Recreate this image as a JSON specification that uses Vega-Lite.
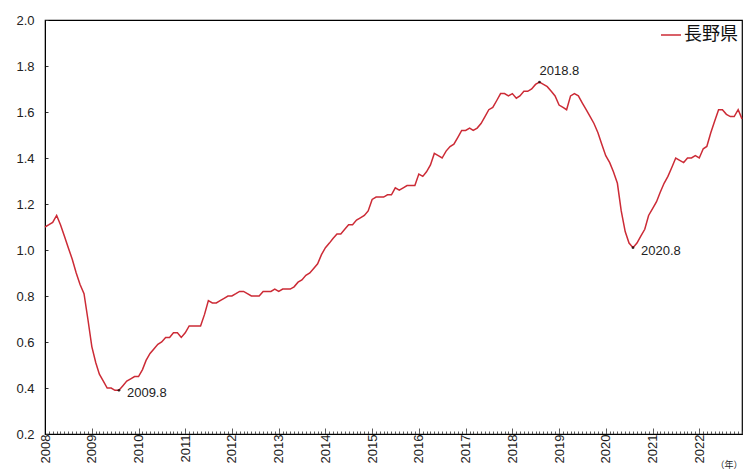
{
  "$schema": "https://vega.github.io/schema/vega-lite/v6.json",
  "width": 697,
  "height": 414,
  "autosize": "none",
  "padding": {"left": 45, "top": 20, "right": 4, "bottom": 40},
  "background": "white",
  "config": {
    "view": {"stroke": "#000", "strokeWidth": 1.2},
    "font": "Liberation Sans"
  },
  "datasets": {
    "main": [
      {"d":"2008/01/01","v":1.10},{"d":"2008/02/01","v":1.11},{"d":"2008/03/01","v":1.12},{"d":"2008/04/01","v":1.15},{"d":"2008/05/01","v":1.11},{"d":"2008/06/01","v":1.06},{"d":"2008/07/01","v":1.01},{"d":"2008/08/01","v":0.96},{"d":"2008/09/01","v":0.90},{"d":"2008/10/01","v":0.85},{"d":"2008/11/01","v":0.81},{"d":"2008/12/01","v":0.70},
      {"d":"2009/01/01","v":0.58},{"d":"2009/02/01","v":0.51},{"d":"2009/03/01","v":0.46},{"d":"2009/04/01","v":0.43},{"d":"2009/05/01","v":0.40},{"d":"2009/06/01","v":0.40},{"d":"2009/07/01","v":0.39},{"d":"2009/08/01","v":0.39},{"d":"2009/09/01","v":0.41},{"d":"2009/10/01","v":0.43},{"d":"2009/11/01","v":0.44},{"d":"2009/12/01","v":0.45},
      {"d":"2010/01/01","v":0.45},{"d":"2010/02/01","v":0.48},{"d":"2010/03/01","v":0.52},{"d":"2010/04/01","v":0.55},{"d":"2010/05/01","v":0.57},{"d":"2010/06/01","v":0.59},{"d":"2010/07/01","v":0.60},{"d":"2010/08/01","v":0.62},{"d":"2010/09/01","v":0.62},{"d":"2010/10/01","v":0.64},{"d":"2010/11/01","v":0.64},{"d":"2010/12/01","v":0.62},
      {"d":"2011/01/01","v":0.64},{"d":"2011/02/01","v":0.67},{"d":"2011/03/01","v":0.67},{"d":"2011/04/01","v":0.67},{"d":"2011/05/01","v":0.67},{"d":"2011/06/01","v":0.72},{"d":"2011/07/01","v":0.78},{"d":"2011/08/01","v":0.77},{"d":"2011/09/01","v":0.77},{"d":"2011/10/01","v":0.78},{"d":"2011/11/01","v":0.79},{"d":"2011/12/01","v":0.80},
      {"d":"2012/01/01","v":0.80},{"d":"2012/02/01","v":0.81},{"d":"2012/03/01","v":0.82},{"d":"2012/04/01","v":0.82},{"d":"2012/05/01","v":0.81},{"d":"2012/06/01","v":0.80},{"d":"2012/07/01","v":0.80},{"d":"2012/08/01","v":0.80},{"d":"2012/09/01","v":0.82},{"d":"2012/10/01","v":0.82},{"d":"2012/11/01","v":0.82},{"d":"2012/12/01","v":0.83},
      {"d":"2013/01/01","v":0.82},{"d":"2013/02/01","v":0.83},{"d":"2013/03/01","v":0.83},{"d":"2013/04/01","v":0.83},{"d":"2013/05/01","v":0.84},{"d":"2013/06/01","v":0.86},{"d":"2013/07/01","v":0.87},{"d":"2013/08/01","v":0.89},{"d":"2013/09/01","v":0.90},{"d":"2013/10/01","v":0.92},{"d":"2013/11/01","v":0.94},{"d":"2013/12/01","v":0.98},
      {"d":"2014/01/01","v":1.01},{"d":"2014/02/01","v":1.03},{"d":"2014/03/01","v":1.05},{"d":"2014/04/01","v":1.07},{"d":"2014/05/01","v":1.07},{"d":"2014/06/01","v":1.09},{"d":"2014/07/01","v":1.11},{"d":"2014/08/01","v":1.11},{"d":"2014/09/01","v":1.13},{"d":"2014/10/01","v":1.14},{"d":"2014/11/01","v":1.15},{"d":"2014/12/01","v":1.17},
      {"d":"2015/01/01","v":1.22},{"d":"2015/02/01","v":1.23},{"d":"2015/03/01","v":1.23},{"d":"2015/04/01","v":1.23},{"d":"2015/05/01","v":1.24},{"d":"2015/06/01","v":1.24},{"d":"2015/07/01","v":1.27},{"d":"2015/08/01","v":1.26},{"d":"2015/09/01","v":1.27},{"d":"2015/10/01","v":1.28},{"d":"2015/11/01","v":1.28},{"d":"2015/12/01","v":1.28},
      {"d":"2016/01/01","v":1.33},{"d":"2016/02/01","v":1.32},{"d":"2016/03/01","v":1.34},{"d":"2016/04/01","v":1.37},{"d":"2016/05/01","v":1.42},{"d":"2016/06/01","v":1.41},{"d":"2016/07/01","v":1.40},{"d":"2016/08/01","v":1.43},{"d":"2016/09/01","v":1.45},{"d":"2016/10/01","v":1.46},{"d":"2016/11/01","v":1.49},{"d":"2016/12/01","v":1.52},
      {"d":"2017/01/01","v":1.52},{"d":"2017/02/01","v":1.53},{"d":"2017/03/01","v":1.52},{"d":"2017/04/01","v":1.53},{"d":"2017/05/01","v":1.55},{"d":"2017/06/01","v":1.58},{"d":"2017/07/01","v":1.61},{"d":"2017/08/01","v":1.62},{"d":"2017/09/01","v":1.65},{"d":"2017/10/01","v":1.68},{"d":"2017/11/01","v":1.68},{"d":"2017/12/01","v":1.67},
      {"d":"2018/01/01","v":1.68},{"d":"2018/02/01","v":1.66},{"d":"2018/03/01","v":1.67},{"d":"2018/04/01","v":1.69},{"d":"2018/05/01","v":1.69},{"d":"2018/06/01","v":1.70},{"d":"2018/07/01","v":1.72},{"d":"2018/08/01","v":1.73},{"d":"2018/09/01","v":1.72},{"d":"2018/10/01","v":1.71},{"d":"2018/11/01","v":1.69},{"d":"2018/12/01","v":1.67},
      {"d":"2019/01/01","v":1.63},{"d":"2019/02/01","v":1.62},{"d":"2019/03/01","v":1.61},{"d":"2019/04/01","v":1.67},{"d":"2019/05/01","v":1.68},{"d":"2019/06/01","v":1.67},{"d":"2019/07/01","v":1.64},{"d":"2019/08/01","v":1.61},{"d":"2019/09/01","v":1.58},{"d":"2019/10/01","v":1.55},{"d":"2019/11/01","v":1.51},{"d":"2019/12/01","v":1.46},
      {"d":"2020/01/01","v":1.41},{"d":"2020/02/01","v":1.38},{"d":"2020/03/01","v":1.34},{"d":"2020/04/01","v":1.29},{"d":"2020/05/01","v":1.17},{"d":"2020/06/01","v":1.08},{"d":"2020/07/01","v":1.03},{"d":"2020/08/01","v":1.01},{"d":"2020/09/01","v":1.03},{"d":"2020/10/01","v":1.06},{"d":"2020/11/01","v":1.09},{"d":"2020/12/01","v":1.15},
      {"d":"2021/01/01","v":1.18},{"d":"2021/02/01","v":1.21},{"d":"2021/03/01","v":1.25},{"d":"2021/04/01","v":1.29},{"d":"2021/05/01","v":1.32},{"d":"2021/06/01","v":1.36},{"d":"2021/07/01","v":1.40},{"d":"2021/08/01","v":1.39},{"d":"2021/09/01","v":1.38},{"d":"2021/10/01","v":1.40},{"d":"2021/11/01","v":1.40},{"d":"2021/12/01","v":1.41},
      {"d":"2022/01/01","v":1.40},{"d":"2022/02/01","v":1.44},{"d":"2022/03/01","v":1.45},{"d":"2022/04/01","v":1.51},{"d":"2022/05/01","v":1.56},{"d":"2022/06/01","v":1.61},{"d":"2022/07/01","v":1.61},{"d":"2022/08/01","v":1.59},{"d":"2022/09/01","v":1.58},{"d":"2022/10/01","v":1.58},{"d":"2022/11/01","v":1.61},{"d":"2022/12/01","v":1.57}
    ],
    "ann": [
      {"d":"2009/08/01","v":0.39,"label":"2009.8"},
      {"d":"2018/08/01","v":1.73,"label":"2018.8"},
      {"d":"2020/08/01","v":1.01,"label":"2020.8"}
    ]
  },
  "encoding": {
    "x": {
      "field": "d", "type": "temporal",
      "scale": {"domain": [{"year": 2008, "month": 1, "date": 1}, {"year": 2022, "month": 12, "date": 1}]},
      "axis": {
        "title": "（年）",
        "titleAngle": 0, "titleX": 697, "titleY": 30, "titleAlign": "right", "titleBaseline": "middle",
        "titleFontSize": 9, "titleFontWeight": "normal", "titleFont": "Noto Sans CJK JP", "titleColor": "#222",
        "tickCount": {"interval": "month", "step": 1},
        "labelExpr": "month(datum.value) == 0 ? timeFormat(datum.value, '%Y') : ''",
        "labelOverlap": false,
        "labelAngle": -90, "labelAlign": "right", "labelBaseline": "middle",
        "labelFontSize": 13, "labelColor": "#222", "labelPadding": 6, "labelFlush": false,
        "tickSize": {"condition": {"test": "month(datum.value) == 0", "value": -6}, "value": -3},
        "tickColor": "#333", "tickWidth": 0.8,
        "domainColor": "#000", "grid": false
      }
    },
    "y": {
      "field": "v", "type": "quantitative",
      "scale": {"domain": [0.2, 2.0], "nice": false, "zero": false},
      "axis": {
        "title": null, "tickCount": 10, "format": ".1f",
        "labelFontSize": 13, "labelColor": "#222", "labelPadding": 14,
        "tickSize": -3, "tickColor": "#333", "domainColor": "#000", "grid": false
      }
    }
  },
  "layer": [
    {
      "data": {"name": "main"},
      "mark": {"type": "line", "strokeWidth": 1.5},
      "encoding": {
        "color": {
          "datum": "長野県",
          "scale": {"range": ["#cc2b36"]},
          "legend": {
            "title": null, "orient": "top-right", "offset": 4,
            "symbolType": "stroke", "symbolSize": 400, "symbolStrokeWidth": 1.5,
            "labelFont": "Noto Sans CJK JP", "labelFontSize": 18, "labelColor": "#111", "labelOffset": 2
          }
        }
      }
    },
    {
      "data": {"name": "ann"},
      "mark": {"type": "point", "filled": true, "size": 8, "color": "#000"}
    },
    {
      "data": {"name": "ann"},
      "transform": [{"filter": "datum.label != '2018.8'"}],
      "mark": {"type": "text", "align": "left", "baseline": "middle", "dx": 8, "dy": 3, "fontSize": 13, "color": "#222"},
      "encoding": {"text": {"field": "label"}}
    },
    {
      "data": {"name": "ann"},
      "transform": [{"filter": "datum.label == '2018.8'"}],
      "mark": {"type": "text", "align": "left", "baseline": "middle", "dx": 0, "dy": -11, "fontSize": 13, "color": "#222"},
      "encoding": {"text": {"field": "label"}}
    }
  ]
}
